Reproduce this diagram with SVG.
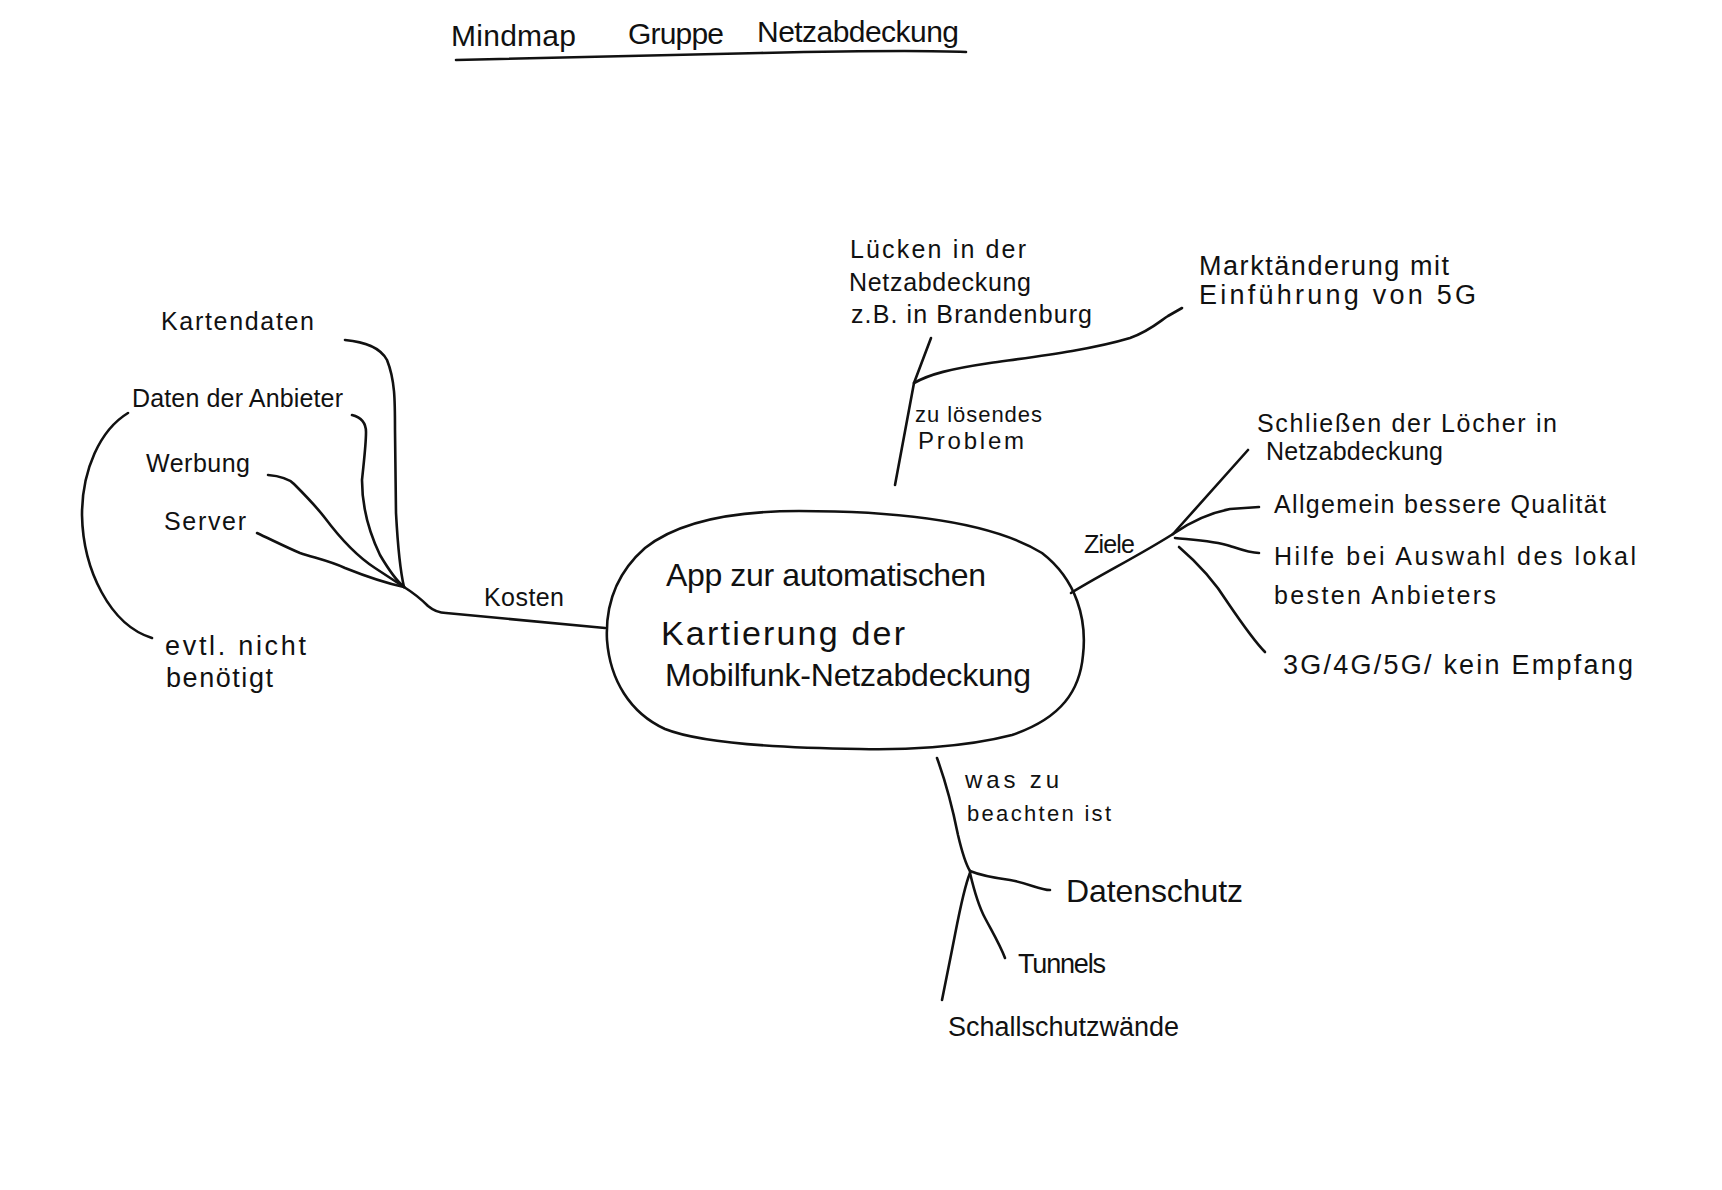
<svg xmlns="http://www.w3.org/2000/svg" width="1722" height="1190" viewBox="0 0 1722 1190">
<style>
  .bg { fill: #ffffff; }
  .ln { fill: none; stroke: #111111; stroke-width: 2.6; stroke-linecap: round; stroke-linejoin: round; }
  .tx { font-family: "Liberation Sans", Arial, sans-serif; fill: #111111; }
  .s22 { font-size: 22px; }
  .s24 { font-size: 24px; }
  .s25 { font-size: 25px; }
  .s27 { font-size: 27px; }
  .s30 { font-size: 30px; }
  .s32 { font-size: 32px; }
  .s34 { font-size: 34px; }
</style>
<rect class="bg" x="0" y="0" width="1722" height="1190"/>

<g id="title">
  <text class="tx s30" x="451" y="46" textLength="125">Mindmap</text>
  <text class="tx s30" x="628" y="44" textLength="96">Gruppe</text>
  <text class="tx s30" x="757" y="42" textLength="202">Netzabdeckung</text>
  <path class="ln" d="M 456 60 C 560 58, 660 55, 760 53 C 850 51, 920 50, 966 52"/>
</g>

<g id="connectors">
  <!-- Kosten branch -->
  <path class="ln" d="M 345 340 C 365 342, 380 347, 387 360 C 395 380, 395 400, 395 430 L 396 513 C 398 550, 400 570, 404 587"/>
  <path class="ln" d="M 352 415 C 360 417, 366 422, 366 432 C 366 445, 364 460, 362 480 C 362 505, 368 530, 380 555 C 390 572, 398 582, 404 587"/>
  <path class="ln" d="M 268 475 C 280 476, 288 478, 294 484 C 305 495, 315 505, 325 518 C 340 538, 355 555, 375 568 L 404 587"/>
  <path class="ln" d="M 257 533 C 272 540, 288 548, 300 553 C 315 558, 330 561, 345 568 C 365 576, 385 583, 404 587"/>
  <path class="ln" d="M 404 587 C 412 592, 420 598, 428 606 C 434 611, 440 613, 446 613 L 605 628"/>
  <path class="ln" d="M 128 413 C 100 430, 82 470, 82 515 C 83 570, 110 625, 152 638"/>
  <!-- Problem branch -->
  <path class="ln" d="M 931 338 L 914 383 L 895 485"/>
  <path class="ln" d="M 914 383 C 930 374, 950 369, 990 363 C 1040 356, 1090 350, 1130 338 C 1150 331, 1160 321, 1168 316 L 1182 308"/>
  <!-- Ziele branch -->
  <path class="ln" d="M 1071 593 C 1100 575, 1140 555, 1173 534"/>
  <path class="ln" d="M 1173 534 L 1248 450"/>
  <path class="ln" d="M 1173 534 C 1190 522, 1210 513, 1230 509 L 1259 507"/>
  <path class="ln" d="M 1175 538 C 1195 540, 1215 541, 1230 546 C 1242 550, 1250 553, 1259 553"/>
  <path class="ln" d="M 1179 547 C 1200 565, 1215 582, 1228 603 C 1245 628, 1255 642, 1265 652"/>
  <!-- beachten branch -->
  <path class="ln" d="M 937 758 C 945 780, 952 805, 958 835 C 962 852, 965 863, 970 871"/>
  <path class="ln" d="M 970 871 C 982 876, 995 878, 1010 880 C 1028 883, 1040 890, 1050 890"/>
  <path class="ln" d="M 970 873 C 974 890, 978 905, 985 918 C 994 935, 1000 945, 1005 958"/>
  <path class="ln" d="M 970 873 C 963 890, 958 920, 952 950 C 947 975, 944 990, 942 1000"/>
</g>

<g id="center">
  <path class="ln" d="M 799 511 C 880 511, 985 518, 1042 553 C 1077 580, 1087 620, 1083 655 C 1080 690, 1062 718, 1012 735 C 962 748, 900 750, 860 749 C 780 748, 700 743, 665 729 C 630 713, 610 680, 607 640 C 605 600, 620 570, 645 548 C 680 520, 740 511, 799 511 Z"/>
  <text class="tx s32" x="666" y="586" textLength="320">App zur automatischen</text>
  <text class="tx s34" x="661" y="645" textLength="244">Kartierung der</text>
  <text class="tx s32" x="665" y="686" textLength="366">Mobilfunk-Netzabdeckung</text>
</g>

<g id="kosten">
  <text class="tx s25" x="484" y="606" textLength="80">Kosten</text>
</g>
<g id="kartendaten">
  <text class="tx s25" x="161" y="330" textLength="153">Kartendaten</text>
</g>
<g id="daten-der-anbieter">
  <text class="tx s25" x="132" y="407" textLength="211">Daten der Anbieter</text>
</g>
<g id="werbung">
  <text class="tx s25" x="146" y="472" textLength="104">Werbung</text>
</g>
<g id="server">
  <text class="tx s25" x="164" y="530" textLength="82">Server</text>
</g>
<g id="evtl-nicht-benoetigt">
  <text class="tx s27" x="165" y="655" textLength="141">evtl. nicht</text>
  <text class="tx s27" x="166" y="687" textLength="107">benötigt</text>
</g>

<g id="zu-loesendes-problem">
  <text class="tx s22" x="915" y="422" textLength="127">zu lösendes</text>
  <text class="tx s24" x="918" y="449" textLength="106">Problem</text>
</g>
<g id="luecken">
  <text class="tx s25" x="850" y="258" textLength="176">Lücken in der</text>
  <text class="tx s25" x="849" y="291" textLength="182">Netzabdeckung</text>
  <text class="tx s25" x="851" y="323" textLength="241">z.B. in Brandenburg</text>
</g>
<g id="marktaenderung">
  <text class="tx s27" x="1199" y="275" textLength="250">Marktänderung mit</text>
  <text class="tx s27" x="1199" y="304" textLength="277">Einführung von 5G</text>
</g>

<g id="ziele">
  <text class="tx s25" x="1084" y="553" textLength="51">Ziele</text>
</g>
<g id="schliessen">
  <text class="tx s25" x="1257" y="432" textLength="300">Schließen der Löcher in</text>
  <text class="tx s25" x="1266" y="460" textLength="177">Netzabdeckung</text>
</g>
<g id="qualitaet">
  <text class="tx s25" x="1274" y="513" textLength="332">Allgemein bessere Qualität</text>
</g>
<g id="hilfe">
  <text class="tx s25" x="1274" y="565" textLength="362">Hilfe bei Auswahl des lokal</text>
  <text class="tx s25" x="1274" y="604" textLength="222">besten Anbieters</text>
</g>
<g id="empfang">
  <text class="tx s27" x="1283" y="674" textLength="350">3G/4G/5G/ kein Empfang</text>
</g>

<g id="was-zu-beachten-ist">
  <text class="tx s24" x="965" y="788" textLength="94">was zu</text>
  <text class="tx s22" x="967" y="821" textLength="144">beachten ist</text>
</g>
<g id="datenschutz">
  <text class="tx s32" x="1066" y="902" textLength="177">Datenschutz</text>
</g>
<g id="tunnels">
  <text class="tx s27" x="1018" y="973" textLength="88">Tunnels</text>
</g>
<g id="schallschutzwaende">
  <text class="tx s27" x="948" y="1036" textLength="231">Schallschutzwände</text>
</g>
</svg>
